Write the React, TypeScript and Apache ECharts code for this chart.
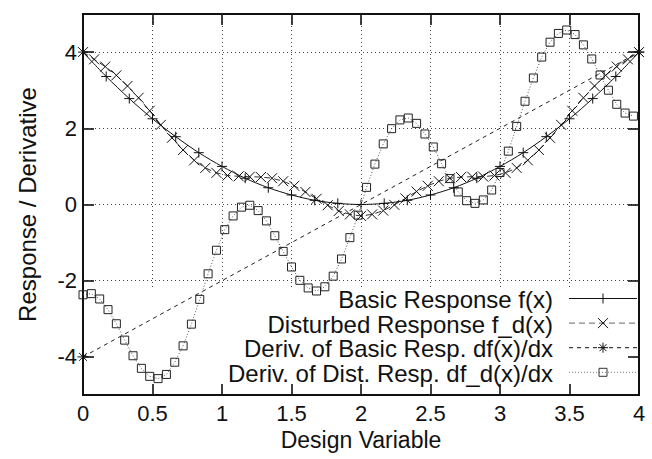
import React, { useEffect, useRef } from "react";
import * as echarts from "echarts";

// ---- data ----
const basicX = [0, 0.167, 0.333, 0.5, 0.667, 0.833, 1, 1.167, 1.333, 1.5, 1.667, 1.833, 2, 2.167, 2.333, 2.5, 2.667, 2.833, 3, 3.167, 3.333, 3.5, 3.667, 3.833, 4];
const basicY = [4.0, 3.36, 2.78, 2.25, 1.78, 1.36, 1.0, 0.69, 0.44, 0.25, 0.11, 0.03, 0.0, 0.03, 0.11, 0.25, 0.44, 0.69, 1.0, 1.36, 1.78, 2.25, 2.78, 3.36, 4.0];

const distX = [0, 0.08, 0.16, 0.24, 0.32, 0.4, 0.48, 0.56, 0.64, 0.72, 0.8, 0.88, 0.96, 1.04, 1.12, 1.2, 1.28, 1.36, 1.44, 1.52, 1.6, 1.68, 1.76, 1.84, 1.92, 2.0, 2.08, 2.16, 2.24, 2.32, 2.4, 2.48, 2.56, 2.64, 2.72, 2.8, 2.88, 2.96, 3.04, 3.12, 3.2, 3.28, 3.36, 3.44, 3.52, 3.6, 3.68, 3.76, 3.84, 3.92, 4.0];
const distY = [4.0, 3.81, 3.62, 3.39, 3.11, 2.8, 2.46, 2.09, 1.75, 1.43, 1.16, 0.96, 0.83, 0.76, 0.74, 0.73, 0.72, 0.69, 0.61, 0.49, 0.33, 0.15, -0.02, -0.17, -0.26, -0.3, -0.26, -0.16, -0.01, 0.16, 0.34, 0.49, 0.61, 0.69, 0.72, 0.73, 0.73, 0.76, 0.83, 0.96, 1.16, 1.43, 1.75, 2.09, 2.46, 2.8, 3.11, 3.39, 3.62, 3.81, 4.0];

const dBasicX = [0, 4];
const dBasicY = [-4, 4];

const dDistX = [0, 0.06, 0.12, 0.18, 0.24, 0.3, 0.36, 0.42, 0.48, 0.54, 0.6, 0.66, 0.72, 0.78, 0.84, 0.9, 0.96, 1.02, 1.08, 1.14, 1.2, 1.26, 1.32, 1.38, 1.44, 1.5, 1.56, 1.62, 1.68, 1.74, 1.8, 1.86, 1.92, 1.98, 2.04, 2.1, 2.16, 2.22, 2.28, 2.34, 2.4, 2.46, 2.52, 2.58, 2.64, 2.7, 2.76, 2.82, 2.88, 2.94, 3.0, 3.06, 3.12, 3.18, 3.24, 3.3, 3.36, 3.42, 3.48, 3.54, 3.6, 3.66, 3.72, 3.78, 3.84, 3.9, 3.96];
const dDistY = [-2.37, -2.34, -2.48, -2.76, -3.13, -3.56, -3.97, -4.3, -4.51, -4.57, -4.46, -4.14, -3.71, -3.14, -2.49, -1.82, -1.2, -0.66, -0.3, -0.07, -0.02, -0.16, -0.43, -0.82, -1.23, -1.64, -1.99, -2.19, -2.27, -2.16, -1.88, -1.43, -0.87, -0.28, 0.45, 1.06, 1.59, 1.99, 2.22, 2.27, 2.13, 1.85, 1.51, 1.07, 0.68, 0.33, 0.1, 0.03, 0.12, 0.38, 0.84, 1.4, 2.05, 2.71, 3.32, 3.87, 4.26, 4.49, 4.58, 4.46, 4.19, 3.82, 3.4, 3.0, 2.63, 2.4, 2.32];

const seriesNames = [
  "Basic Response f(x)",
  "Disturbed Response f_d(x)",
  "Deriv. of Basic Resp. df(x)/dx",
  "Deriv. of Dist. Resp. df_d(x)/dx",
];

const xTicks = [0.5, 1, 1.5, 2, 2.5, 3, 3.5];
const yTicks = [-4, -2, 0, 2, 4];
const gridX = [0.5, 1, 1.5, 2, 2.5, 3, 3.5];
const gridY = [4, 2, 0, -2];

// ---- styling ----
const FONT = '"Liberation Sans", Arial, Helvetica, sans-serif';
const INK = "#111";

const SYM_PLUS = "path://M0,5L10,5M5,0L5,10";
const SYM_CROSS = "path://M0,0L10,10M0,10L10,0";
const SYM_STAR = "path://M0,5L10,5M5,0L5,10M1.5,1.5L8.5,8.5M1.5,8.5L8.5,1.5";
const SYM_SQUARE = "path://M0,0L10,0L10,10L0,10Z";

const zip = (xs: number[], ys: number[]) => xs.map((x, i) => [x, ys[i]]);

function legendMarker(kind: string, cx: number, cy: number, color: string): any[] {
  const s = 5;
  const ln = (x1: number, y1: number, x2: number, y2: number) => ({
    type: "line",
    silent: true,
    shape: { x1, y1, x2, y2 },
    style: { stroke: color, lineWidth: 1 },
  });
  if (kind === "plus") return [ln(cx - s, cy, cx + s, cy), ln(cx, cy - s, cx, cy + s)];
  if (kind === "cross") return [ln(cx - s, cy - s, cx + s, cy + s), ln(cx - s, cy + s, cx + s, cy - s)];
  if (kind === "star")
    return [
      ln(cx - s, cy, cx + s, cy),
      ln(cx, cy - s, cx, cy + s),
      ln(cx - 3.5, cy - 3.5, cx + 3.5, cy + 3.5),
      ln(cx - 3.5, cy + 3.5, cx + 3.5, cy - 3.5),
    ];
  return [
    {
      type: "rect",
      silent: true,
      shape: { x: cx - 4, y: cy - 4, width: 8, height: 8 },
      style: { stroke: color, fill: "none", lineWidth: 1 },
    },
  ];
}

export default function App() {
  const ref = useRef<HTMLDivElement>(null);

  useEffect(() => {
    if (!ref.current) return;
    const chart = echarts.init(ref.current, undefined, { renderer: "svg" });

    const legendRowsY = [298.5, 323.1, 347.7, 372.3];
    const legendStyles = [
      { stroke: "#111", dash: null as any, marker: "plus" },
      { stroke: "#666", dash: [6, 4], marker: "cross" },
      { stroke: "#111", dash: [4, 4], marker: "star" },
      { stroke: "#777", dash: [1, 2], marker: "square" },
    ];
    const graphic: any[] = [];
    seriesNames.forEach((name, i) => {
      const y = legendRowsY[i];
      const st = legendStyles[i];
      graphic.push({
        type: "text",
        silent: true,
        x: 553,
        y: y + 1,
        style: {
          text: name,
          fontSize: 24,
          lineHeight: 24,
          fontFamily: FONT,
          fill: INK,
          align: "right",
          verticalAlign: "middle",
        },
      });
      graphic.push({
        type: "line",
        silent: true,
        shape: { x1: 569, y1: y, x2: 637, y2: y },
        style: { stroke: st.stroke, lineWidth: 1, lineDash: st.dash || undefined },
      });
      graphic.push(...legendMarker(st.marker, 603, y, i === 3 ? "#333" : "#111"));
    });

    // dotted grid (the key area below y = -2.2 stays free of vertical grid lines)
    const gridLines: any[] = [];
    gridX.forEach((x) => gridLines.push([{ coord: [x, 5] }, { coord: [x, -2.2] }]));
    gridY.forEach((y) => gridLines.push([{ coord: [0, y] }, { coord: [4, y] }]));

    // inward mirror ticks on all four sides (11px long)
    const tx = 11 / 139;
    const ty = 11 / 38;
    const tickLines: any[] = [];
    xTicks.forEach((x) => {
      tickLines.push([{ coord: [x, -5] }, { coord: [x, -5 + ty] }]);
      tickLines.push([{ coord: [x, 5] }, { coord: [x, 5 - ty] }]);
    });
    yTicks.forEach((y) => {
      tickLines.push([{ coord: [0, y] }, { coord: [tx, y] }]);
      tickLines.push([{ coord: [4, y] }, { coord: [4 - tx, y] }]);
    });

    const labelStyle = { fontSize: 22, color: INK, fontFamily: FONT };
    const frameLine = { show: true, onZero: false, lineStyle: { color: INK, width: 2 } };

    const option: any = {
      animation: false,
      grid: {
        left: 83,
        right: 13,
        top: 14,
        bottom: 64,
        show: true,
        borderColor: INK,
        borderWidth: 2,
        backgroundColor: "transparent",
      },
      xAxis: [
        {
          type: "value",
          min: 0,
          max: 4,
          interval: 0.5,
          position: "bottom",
          axisLine: frameLine,
          axisTick: { show: false },
          splitLine: { show: false },
          axisLabel: { ...labelStyle, margin: 7, formatter: (v: number) => String(v) },
          name: "Design Variable",
          nameLocation: "middle",
          nameGap: 31,
          nameTextStyle: { fontSize: 23, color: INK, fontFamily: FONT },
        },
        {
          type: "value",
          min: 0,
          max: 4,
          interval: 0.5,
          position: "top",
          axisLine: frameLine,
          axisTick: { show: false },
          splitLine: { show: false },
          axisLabel: { show: false },
        },
      ],
      yAxis: [
        {
          type: "value",
          min: -5,
          max: 5,
          position: "left",
          axisLine: frameLine,
          axisTick: { show: false },
          splitLine: { show: false },
          axisLabel: { ...labelStyle, margin: 6, customValues: yTicks },
          name: "Response / Derivative",
          nameLocation: "middle",
          nameGap: 44,
          nameTextStyle: { fontSize: 24, color: INK, fontFamily: FONT },
        },
        {
          type: "value",
          min: -5,
          max: 5,
          position: "right",
          axisLine: frameLine,
          axisTick: { show: false },
          splitLine: { show: false },
          axisLabel: { show: false },
        },
      ],
      series: [
        {
          name: seriesNames[0],
          type: "line",
          data: zip(basicX, basicY),
          smooth: 0.3,
          showAllSymbol: true,
          symbol: SYM_PLUS,
          symbolSize: 10,
          itemStyle: { color: "transparent", borderColor: INK, borderWidth: 1 },
          lineStyle: { color: INK, width: 1 },
          z: 4,
          markLine: {
            silent: true,
            symbol: ["none", "none"],
            label: { show: false },
            lineStyle: { color: "#444", width: 1, type: [1, 3] },
            emphasis: { disabled: true },
            data: gridLines,
            z: 1,
          },
        },
        {
          name: seriesNames[1],
          type: "line",
          data: zip(distX, distY),
          showAllSymbol: true,
          symbol: SYM_CROSS,
          symbolSize: 10,
          itemStyle: { color: "transparent", borderColor: INK, borderWidth: 1 },
          lineStyle: { color: "#333", width: 1, type: [6, 4] },
          z: 3,
          markLine: {
            silent: true,
            symbol: ["none", "none"],
            label: { show: false },
            lineStyle: { color: INK, width: 1.6, type: "solid" },
            emphasis: { disabled: true },
            data: tickLines,
            z: 5,
          },
        },
        {
          name: seriesNames[2],
          type: "line",
          data: zip(dBasicX, dBasicY),
          showAllSymbol: true,
          symbol: SYM_STAR,
          symbolSize: 11,
          itemStyle: { color: "transparent", borderColor: INK, borderWidth: 1 },
          lineStyle: { color: "#222", width: 1, type: [4, 4] },
          z: 3,
        },
        {
          name: seriesNames[3],
          type: "line",
          data: zip(dDistX, dDistY),
          showAllSymbol: true,
          symbol: SYM_SQUARE,
          symbolSize: 8,
          itemStyle: { color: "transparent", borderColor: "#222", borderWidth: 1 },
          lineStyle: { color: "#555", width: 1, type: [1, 2] },
          z: 3,
        },
      ],
      graphic,
    };

    chart.setOption(option);
    return () => chart.dispose();
  }, []);

  return (
    <div
      ref={ref}
      style={{ position: "fixed", left: 0, top: 0, width: 652, height: 459, background: "#fff" }}
    />
  );
}
